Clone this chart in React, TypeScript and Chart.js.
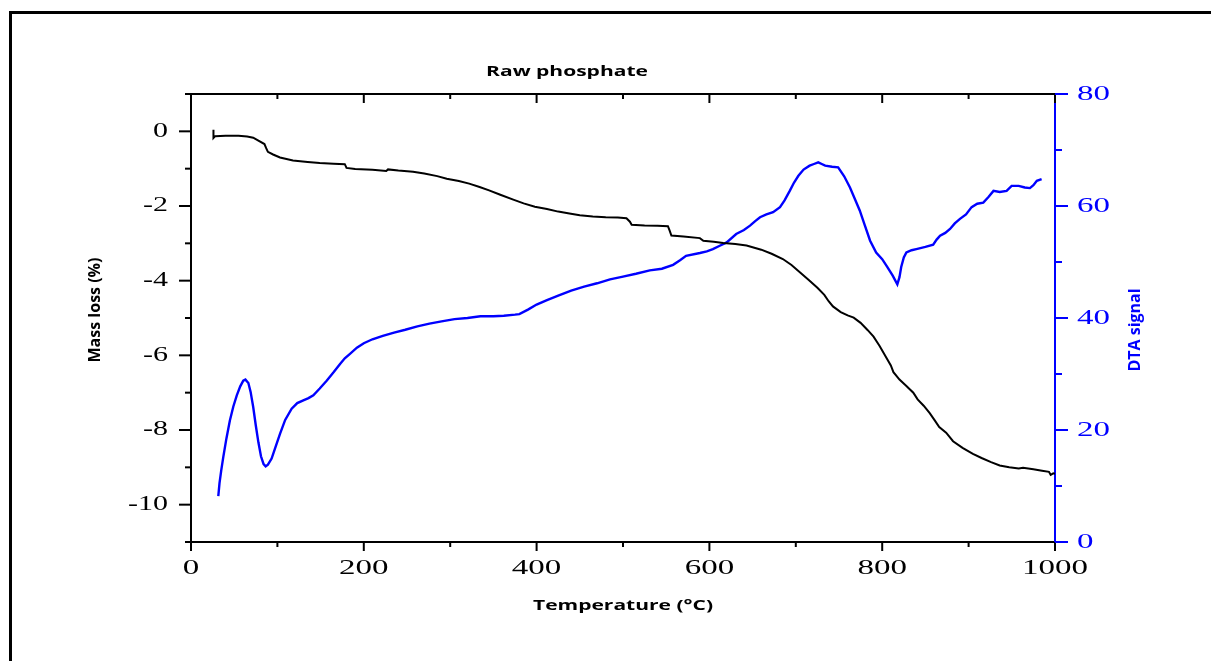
import React, { useEffect, useRef } from "react";
import { Chart, registerables } from "chart.js";

Chart.register(...registerables);

// Thermogravimetric mass loss (%) against temperature (°C)
const massTemps = [
  26, 26, 28, 40, 55, 65, 72, 78, 85, 87, 89, 95, 103, 118, 135, 149, 165, 178, 180, 190,
  210, 226, 228, 240, 257, 270, 285, 296, 310, 322, 334, 345, 358, 373, 385, 398, 412, 425,
  438, 450, 465, 480, 494, 504, 508, 510, 525, 540, 552, 554, 556, 570, 589, 593, 605, 616,
  630, 643, 652, 660, 672, 685, 695, 705, 715, 725, 733, 738, 743, 752, 760, 767, 775, 783,
  790, 797, 804, 810, 813, 820, 828, 836, 841, 848, 855, 861, 866, 874, 882, 893, 905, 915,
  926, 936, 947, 958, 963, 975, 985, 993, 995, 998, 1000,
];
const massLoss = [
  0.04, -0.18, -0.13, -0.12, -0.12, -0.14, -0.17, -0.25, -0.34, -0.45, -0.55, -0.62, -0.7,
  -0.78, -0.82, -0.85, -0.87, -0.88, -0.98, -1.01, -1.03, -1.06, -1.02, -1.05, -1.08, -1.13,
  -1.2, -1.27, -1.33, -1.4, -1.49, -1.58, -1.7, -1.83, -1.93, -2.02, -2.08, -2.15, -2.2,
  -2.25, -2.28, -2.3, -2.31, -2.33, -2.42, -2.5, -2.52, -2.53, -2.54, -2.66, -2.79, -2.82,
  -2.86, -2.93, -2.96, -2.99, -3.02, -3.06, -3.12, -3.17, -3.28, -3.42, -3.58, -3.78, -3.98,
  -4.19, -4.38, -4.55, -4.69, -4.84, -4.93, -4.99, -5.13, -5.32, -5.5, -5.75, -6.03, -6.27,
  -6.45, -6.65, -6.82, -7.0, -7.18, -7.35, -7.55, -7.75, -7.92, -8.07, -8.3, -8.48, -8.64,
  -8.75, -8.86, -8.95, -9.0, -9.03, -9.01, -9.05, -9.09, -9.12, -9.2, -9.16, -9.17,
];

// Differential thermal analysis signal against temperature (°C)
const dtaTemps = [
  31.6, 33, 35, 37.4, 41, 45, 49, 53, 57, 60.5, 63, 66.4, 69, 72, 75, 78, 81, 84, 86.4, 89,
  93.3, 97, 103, 109, 116.5, 123, 130, 136, 141.6, 149, 157, 165, 172.5, 178, 184, 192, 200,
  210, 222, 235, 248, 262, 276, 290, 305, 320, 335, 350, 362, 375, 380, 390, 400, 412, 425,
  440, 455, 470, 485, 500, 515, 531, 545, 558, 566, 573, 589, 597, 604, 612, 620, 631, 640,
  647, 653, 658.6, 666, 673.7, 681.7, 687, 693, 698, 703, 709, 716, 721, 726, 730, 734, 742,
  749, 756, 762.7, 768, 774, 780, 786, 793, 800, 806, 812, 817.5, 820, 822, 825, 828, 834,
  839.5, 850, 859, 863, 867, 873, 878.5, 884, 890, 897, 903.5, 910, 917, 923, 928.8, 936,
  944, 949.8, 958, 965, 971, 975, 979, 984.5,
];
const dtaSignal = [
  8.2, 10.5, 12.8, 15.2, 18.5, 21.7, 24.2, 26.2, 27.8, 28.8, 29.0, 28.4, 26.8, 24.1, 20.8,
  17.8, 15.3, 13.9, 13.5, 13.8, 14.9, 16.6, 19.3, 21.8, 23.8, 24.8, 25.3, 25.7, 26.2, 27.4,
  28.8, 30.3, 31.8, 32.8, 33.6, 34.7, 35.5, 36.2, 36.8, 37.4, 37.9, 38.5, 39.0, 39.4, 39.8,
  40.0, 40.3, 40.3, 40.4, 40.6, 40.7, 41.5, 42.4, 43.2, 44.0, 44.9, 45.6, 46.2, 46.9, 47.4,
  47.9, 48.5, 48.8, 49.5, 50.3, 51.1, 51.6, 51.9, 52.3, 52.9, 53.5, 55.0, 55.7, 56.5, 57.3,
  58.0, 58.5, 58.9, 59.8, 61.0, 62.7, 64.2, 65.4, 66.5, 67.2, 67.5, 67.8, 67.5, 67.2, 67.0,
  66.9, 65.3, 63.3, 61.4, 59.2, 56.5, 53.8, 51.7, 50.5, 49.1, 47.6, 46.0, 47.3, 49.1, 50.8,
  51.7, 52.1, 52.3, 52.7, 53.1, 54.0, 54.7, 55.2, 55.9, 56.9, 57.7, 58.5, 59.8, 60.4, 60.6,
  61.6, 62.7, 62.5, 62.7, 63.6, 63.6, 63.3, 63.2, 63.7, 64.5, 64.8,
];

// Axis ranges and label spacing
const tempRange = [0, 1000];
const tempStep = 100;
const tempLabelStep = 200;
const massRange = [-11, 1];
const massStep = 1;
const massLabelStep = 2;
const dtaRange = [0, 80];
const dtaStep = 10;
const dtaLabelStep = 20;

const chartTitle = "Raw phosphate";
const tempTitle = "Temperature (°C)";
const massTitle = "Mass loss (%)";
const dtaTitle = "DTA signal";

const BLUE = "#0000ff";
const BLACK = "#000000";
const SERIF = '"Liberation Serif", "Times New Roman", serif';
const SANS = '"Open Sans", "DejaVu Sans", sans-serif';
const STRETCH = 1.5;

function wideText(
  ctx: CanvasRenderingContext2D,
  text: string,
  x: number,
  y: number,
  font: string,
  color: string,
  align: CanvasTextAlign
) {
  ctx.save();
  ctx.translate(x, y);
  ctx.scale(STRETCH, 1);
  ctx.font = font;
  ctx.fillStyle = color;
  ctx.textAlign = align;
  ctx.textBaseline = "middle";
  ctx.fillText(text, 0, 0);
  ctx.restore();
}

function uprightText(
  ctx: CanvasRenderingContext2D,
  text: string,
  x: number,
  y: number,
  font: string,
  color: string
) {
  ctx.save();
  ctx.translate(x, y);
  ctx.rotate(-Math.PI / 2);
  ctx.font = font;
  ctx.fillStyle = color;
  ctx.textAlign = "center";
  ctx.textBaseline = "middle";
  ctx.fillText(text, 0, 0);
  ctx.restore();
}

function seg(ctx: CanvasRenderingContext2D, x1: number, y1: number, x2: number, y2: number) {
  ctx.beginPath();
  ctx.moveTo(x1, y1);
  ctx.lineTo(x2, y2);
  ctx.stroke();
}

const isMultiple = (v: number, step: number) =>
  Math.abs(v / step - Math.round(v / step)) < 1e-6;

// Draws tick marks, tick labels, the top frame line and all titles
const axisDecor = {
  id: "axisDecor",
  afterDraw(chart: any) {
    const { ctx, chartArea } = chart;
    const { left, right, top, bottom } = chartArea;
    const sx = chart.scales.x;
    const sm = chart.scales.yMass;
    const sd = chart.scales.yDta;
    ctx.save();
    ctx.lineWidth = 2;

    // top frame line
    ctx.strokeStyle = BLACK;
    seg(ctx, left - 1, top, right, top);

    // temperature axis: outward ticks at bottom, inward ticks at top
    sx.ticks.forEach((t: any) => {
      const px = sx.getPixelForValue(t.value);
      const major = isMultiple(t.value, tempLabelStep);
      ctx.strokeStyle = BLACK;
      seg(ctx, px, bottom, px, bottom + (major ? 9 : 5));
      seg(ctx, px, top, px, top + (major ? 9 : 5));
      if (major) {
        wideText(ctx, String(t.value), px, bottom + 26, `22px ${SERIF}`, BLACK, "center");
      }
    });

    // mass loss axis (left)
    sm.ticks.forEach((t: any) => {
      const py = sm.getPixelForValue(t.value);
      const major = isMultiple(t.value, massLabelStep);
      ctx.strokeStyle = BLACK;
      seg(ctx, left, py, left - (major ? 12 : 6), py);
      if (major) {
        wideText(ctx, String(t.value), left - 23, py, `20px ${SERIF}`, BLACK, "right");
      }
    });

    // DTA axis (right)
    sd.ticks.forEach((t: any) => {
      const py = sd.getPixelForValue(t.value);
      const major = isMultiple(t.value, dtaLabelStep);
      ctx.strokeStyle = BLUE;
      seg(ctx, right, py, right + (major ? 13 : 7), py);
      if (major) {
        wideText(ctx, String(t.value), right + 22, py, `22px ${SERIF}`, BLUE, "left");
      }
    });

    // titles
    wideText(ctx, chartTitle, 567, 72, `bold 14px ${SANS}`, BLACK, "center");
    wideText(ctx, tempTitle, (left + right) / 2, bottom + 64, `bold 14px ${SANS}`, BLACK, "center");
    uprightText(ctx, massTitle, 95, 310, `bold 16px ${SANS}`, BLACK);
    uprightText(ctx, dtaTitle, 1135, 330, `bold 16px ${SANS}`, BLUE);

    ctx.restore();
  },
};

export default function App() {
  const canvasRef = useRef<HTMLCanvasElement | null>(null);

  useEffect(() => {
    if (!canvasRef.current) return;
    const massPoints = massTemps.map((t, i) => ({ x: t, y: massLoss[i] }));
    const dtaPoints = dtaTemps.map((t, i) => ({ x: t, y: dtaSignal[i] }));

    const chart = new Chart(canvasRef.current, {
      type: "line",
      data: {
        datasets: [
          {
            label: massTitle,
            data: massPoints,
            yAxisID: "yMass",
            borderColor: BLACK,
            borderWidth: 2,
            pointRadius: 0,
            tension: 0,
          },
          {
            label: dtaTitle,
            data: dtaPoints,
            yAxisID: "yDta",
            borderColor: BLUE,
            borderWidth: 2.4,
            pointRadius: 0,
            tension: 0,
          },
        ],
      },
      options: {
        responsive: false,
        animation: false,
        devicePixelRatio: 1,
        layout: { padding: { top: 94, left: 0, right: 0, bottom: 0 } },
        plugins: {
          legend: { display: false },
          title: { display: false },
          tooltip: { enabled: false },
        },
        scales: {
          x: {
            type: "linear",
            position: "bottom",
            min: tempRange[0],
            max: tempRange[1],
            ticks: { stepSize: tempStep, display: false },
            grid: { display: false },
            border: { display: true, color: BLACK, width: 2 },
            afterFit: (s: any) => {
              s.height = 119;
            },
          },
          yMass: {
            type: "linear",
            position: "left",
            min: massRange[0],
            max: massRange[1],
            ticks: { stepSize: massStep, display: false },
            grid: { display: false },
            border: { display: true, color: BLACK, width: 2 },
            afterFit: (s: any) => {
              s.width = 191;
            },
          },
          yDta: {
            type: "linear",
            position: "right",
            min: dtaRange[0],
            max: dtaRange[1],
            ticks: { stepSize: dtaStep, display: false },
            grid: { display: false },
            border: { display: true, color: BLUE, width: 2 },
            afterFit: (s: any) => {
              s.width = 156;
            },
          },
        },
      },
      plugins: [axisDecor],
    });

    return () => chart.destroy();
  }, []);

  return (
    <div
      style={{
        position: "fixed",
        left: 0,
        top: 0,
        width: 1211,
        height: 661,
        background: "#ffffff",
        overflow: "hidden",
      }}
    >
      <canvas ref={canvasRef} width={1211} height={661} style={{ display: "block" }} />
      <div
        style={{
          position: "absolute",
          left: 9,
          top: 11,
          width: 1300,
          height: 800,
          borderTop: "3px solid #000",
          borderLeft: "3px solid #000",
          boxSizing: "border-box",
          pointerEvents: "none",
        }}
      />
    </div>
  );
}
